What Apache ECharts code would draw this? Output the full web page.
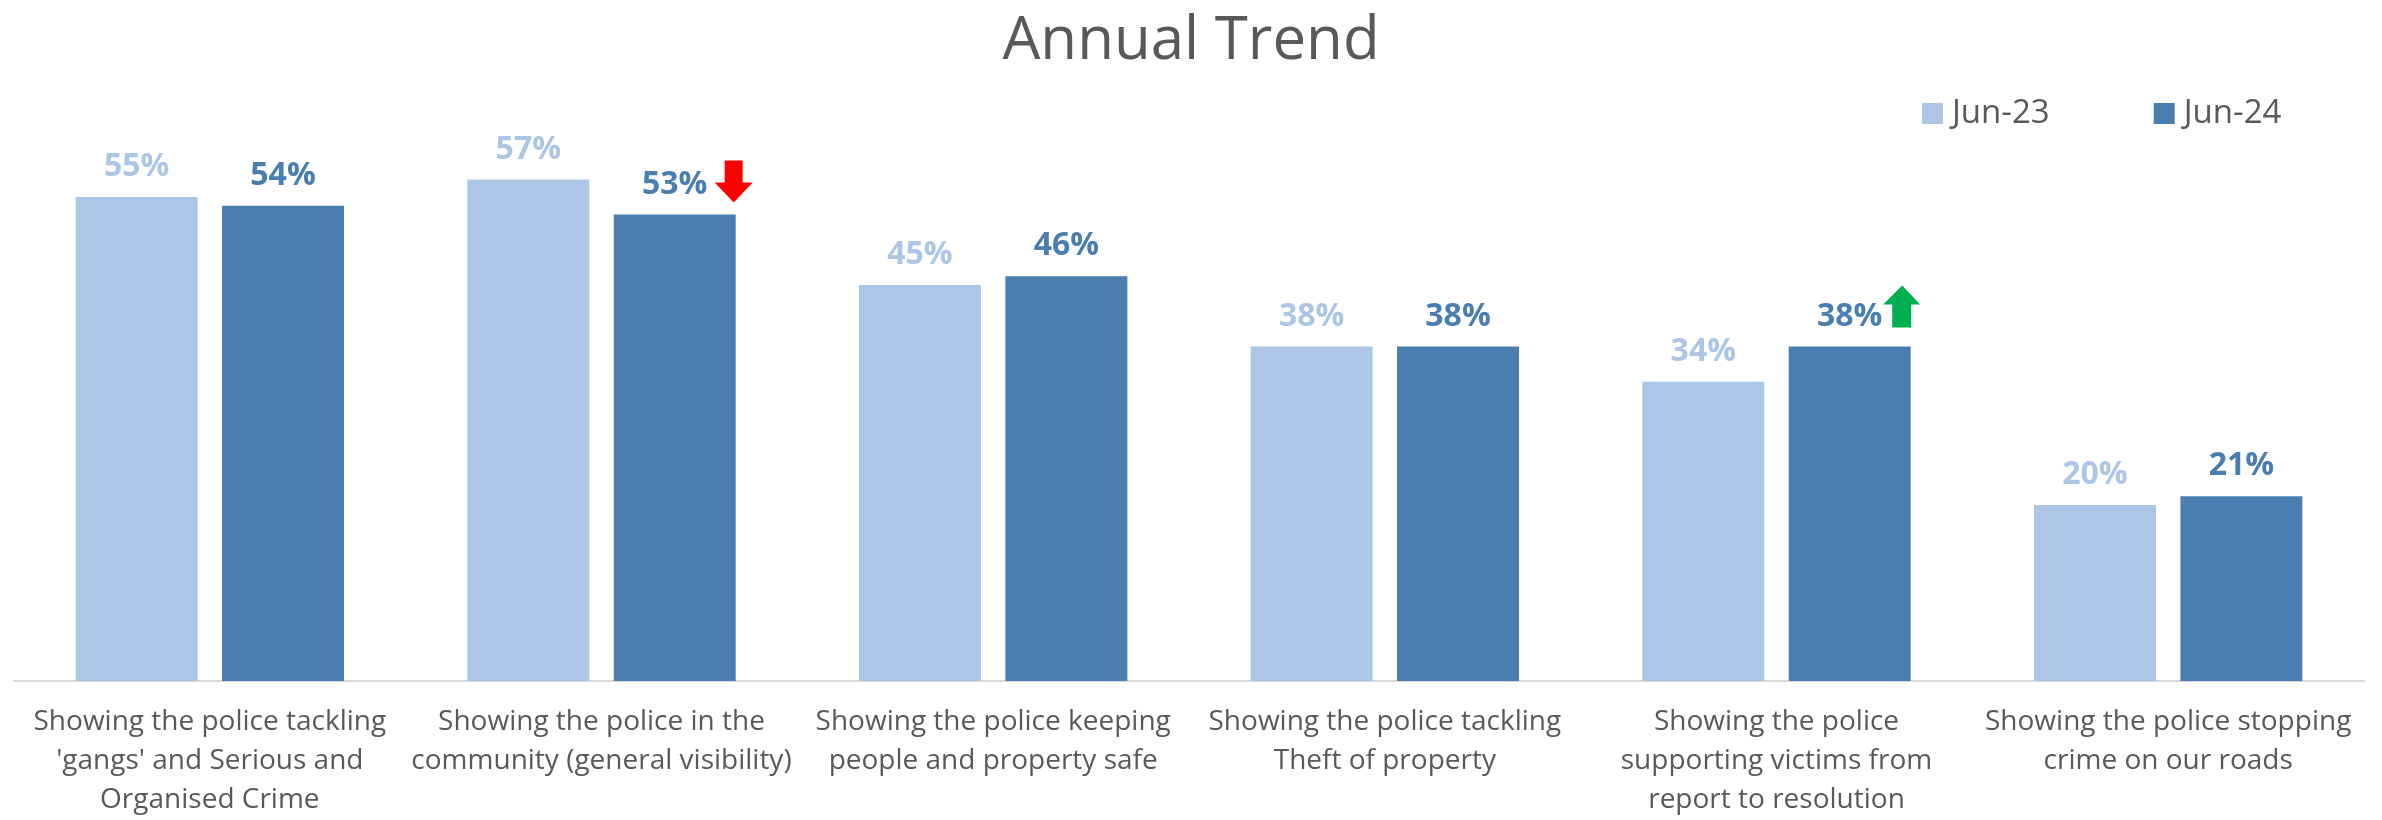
<!DOCTYPE html>
<html>
<head>
    <meta charset="utf-8">
    <title>Annual Trend</title>
    <script src="https://cdn.jsdelivr.net/npm/echarts@6/dist/echarts.min.js"></script>
    <style>
        html, body { margin: 0; padding: 0; background: #ffffff; }
        #chart { width: 2382px; height: 820px; }
    </style>
</head>
<body>
<div id="chart"></div>
<script>
    // data
    var categories = [
        "Showing the police tackling\n'gangs' and Serious and\nOrganised Crime",
        "Showing the police in the\ncommunity (general visibility)",
        "Showing the police keeping\npeople and property safe",
        "Showing the police tackling\nTheft of property",
        "Showing the police\nsupporting victims from\nreport to resolution",
        "Showing the police stopping\ncrime on our roads"
    ];
    var seriesNames = ['Jun-23', 'Jun-24'];
    var jun23 = [55, 57, 45, 38, 34, 20];
    var jun24 = [54, 53, 46, 38, 38, 21];

    var lightBlue = '#AEC6E5';
    var darkBlue = '#4A7EB0';
    var textGrey = '#595959';
    var fontFamily = '"Open Sans", "Noto Sans", sans-serif';

    // arrow shapes (down / up)
    var downArrow = 'path://M10,0 L28,0 L28,22 L38,22 L19,42 L0,22 L10,22 Z';
    var upArrow = 'path://M19,0 L37,19 L28,19 L28,42 L9,42 L9,19 L0,19 Z';

    var chart = echarts.init(document.getElementById('chart'));

    var option = {
        animation: false,
        backgroundColor: '#ffffff',
        title: {
            text: 'Annual Trend',
            left: 'center',
            top: 7,
            textStyle: {
                fontFamily: fontFamily,
                fontSize: 60,
                fontWeight: 'normal',
                color: textGrey
            }
        },
        legend: {
            data: seriesNames,
            left: 1917,
            top: 92,
            icon: 'rect',
            itemWidth: 21,
            itemHeight: 21,
            itemGap: 104,
            textStyle: {
                fontFamily: fontFamily,
                fontSize: 33,
                color: textGrey,
                padding: [0, 0, 0, 4]
            }
        },
        grid: {
            left: 14,
            right: 18,
            top: 153,
            bottom: 136
        },
        xAxis: {
            type: 'category',
            data: categories,
            axisTick: { show: false },
            axisLine: { lineStyle: { color: '#D9D9D9', width: 2 } },
            axisLabel: {
                interval: 0,
                margin: 22,
                fontFamily: fontFamily,
                fontSize: 28,
                lineHeight: 39,
                color: textGrey,
                align: 'center'
            }
        },
        yAxis: {
            type: 'value',
            min: 0,
            max: 60,
            show: false,
            splitLine: { show: false }
        },
        series: [
            {
                name: seriesNames[0],
                type: 'bar',
                data: jun23,
                barWidth: 122,
                barGap: '20%',
                itemStyle: { color: lightBlue },
                label: {
                    show: true,
                    position: 'top',
                    distance: 14,
                    formatter: '{c}%',
                    fontFamily: fontFamily,
                    fontSize: 32,
                    fontWeight: 'bold',
                    color: lightBlue
                }
            },
            {
                name: seriesNames[1],
                type: 'bar',
                data: jun24,
                barWidth: 122,
                itemStyle: { color: darkBlue },
                label: {
                    show: true,
                    position: 'top',
                    distance: 14,
                    formatter: '{c}%',
                    fontFamily: fontFamily,
                    fontSize: 32,
                    fontWeight: 'bold',
                    color: darkBlue
                },
                markPoint: {
                    silent: true,
                    label: { show: false },
                    data: [
                        {
                            coord: [1, jun24[1]],
                            symbol: downArrow,
                            symbolSize: [38, 42],
                            symbolOffset: [59, -33],
                            itemStyle: { color: '#FF0000' }
                        },
                        {
                            coord: [4, jun24[4]],
                            symbol: upArrow,
                            symbolSize: [37, 42],
                            symbolOffset: [52, -40],
                            itemStyle: { color: '#00B050' }
                        }
                    ]
                }
            }
        ]
    };

    chart.setOption(option);
</script>
</body>
</html>
